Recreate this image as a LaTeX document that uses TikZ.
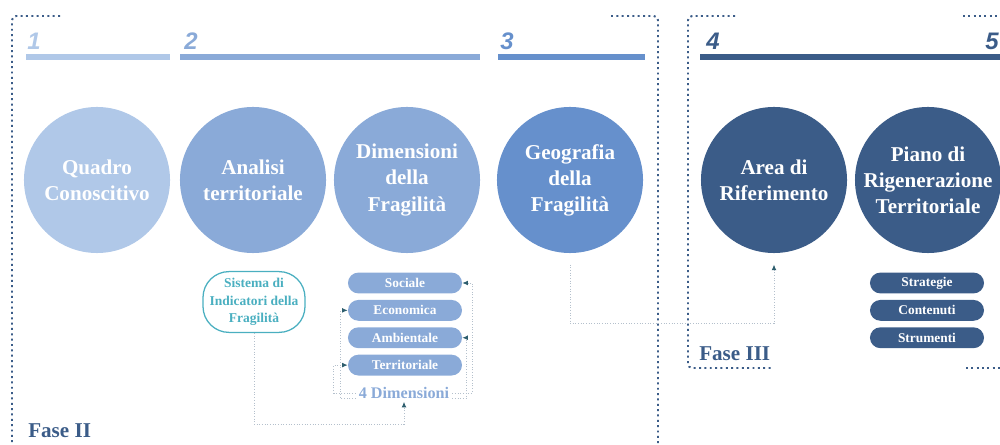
\documentclass[tikz,border=0pt]{standalone}
\usepackage{fontspec}
\setmainfont{Liberation Serif}
\newfontfamily\numfont{Liberation Sans}
\usepackage{xcolor}
\definecolor{blue200}{HTML}{B0C8E8}
\definecolor{blue300}{HTML}{8AAAD8}
\definecolor{blue400}{HTML}{6690CC}
\definecolor{navy700}{HTML}{3B5C88}
\definecolor{teal400}{HTML}{4AAFC0}
\definecolor{teal800}{HTML}{2E5E6E}
\definecolor{gray300}{HTML}{B4C0CC}
\usetikzlibrary{arrows.meta, positioning}

\begin{document}
\begin{tikzpicture}[
        x=0.025cm, y=-0.025cm,
        node distance=0.15cm,
        phase/.style={circle, minimum size=3.65cm, inner sep=0pt, align=center, text=white, font=\fontsize{15}{18.5}\selectfont\bfseries},
        tag/.style={rectangle, rounded corners=0.26cm, minimum width=2.85cm, minimum height=0.52cm, inner sep=0pt, text=white, font=\fontsize{9.5}{11}\selectfont\bfseries},
        bar/.style={line width=4.3pt},
        num/.style={font=\numfont\fontsize{17}{20}\selectfont\bfseries\itshape, inner sep=0pt, anchor=base west},
        frame/.style={draw=navy700, line width=1.4pt, dash pattern=on 1.4pt off 2.4pt, rounded corners=3pt},
        link/.style={draw=gray300, line width=0.7pt, dash pattern=on 0.7pt off 1.2pt},
        tip/.style={-{Latex[length=4pt, width=3.5pt, color=teal800]}},
        fase/.style={text=navy700, font=\fontsize{15}{18}\selectfont\bfseries, inner sep=0pt, anchor=base west}
    ]
        \useasboundingbox (0,0) rectangle (1000,445);

        % Phase numbers and bars
        \node[num, text=blue200] (n1) at (27,50) {1};
        \node[num, text=blue300] (n2) at (184,50) {2};
        \node[num, text=blue400] (n3) at (500,50) {3};
        \node[num, text=navy700] (n4) at (706,50) {4};
        \node[num, text=navy700, anchor=base east] (n5) at (999,50) {5};
        \draw[bar, blue200] (26,57) -- (170,57);
        \draw[bar, blue300] (180,57) -- (480,57);
        \draw[bar, blue400] (498,57) -- (645,57);
        \draw[bar, navy700] (700,57) -- (1000,57);

        % Dotted frames
        \draw[frame] (60,16) -| (12,445);
        \draw[frame] (611,16) -| (658,445);
        \draw[frame] (735,16) -| (688,368) -- (772,368);
        \draw[frame] (963,16) -- (1000,16);
        \draw[frame] (966,368) -- (1000,368);
        \node[fase] (fase2) at (28,437) {Fase II};
        \node[fase] (fase3) at (699,360) {Fase III};

        % Main circles
        \node[phase, fill=blue200] (quadro) at (97,180) {Quadro\\Conoscitivo};
        \node[phase, fill=blue300] (analisi) at (253,180) {Analisi\\territoriale};
        \node[phase, fill=blue300] (dimfrag) at (407,180) {Dimensioni\\della\\Fragilità};
        \node[phase, fill=blue400] (geo) at (570,180) {Geografia\\della\\Fragilità};
        \node[phase, fill=navy700] (area) at (774,180) {Area di\\Riferimento};
        \node[phase, fill=navy700] (piano) at (928,180) {Piano di\\Rigenerazione\\Territoriale};

        % Indicators and dimensions
        \node[draw=teal400, line width=0.9pt, rounded corners=0.65cm, minimum width=2.55cm, minimum height=1.52cm, inner sep=1pt, align=center, text=teal400, font=\fontsize{9.6}{12.6}\selectfont\bfseries] (indic) at (254,302) {Sistema di\\Indicatori della\\Fragilità};
        \node[tag, fill=blue300] (soc) at (405,283) {Sociale};
        \node[tag, fill=blue300, below=of soc] (econ) {Economica};
        \node[tag, fill=blue300, below=of econ] (amb) {Ambientale};
        \node[tag, fill=blue300, below=of amb] (terr) {Territoriale};
        \node[text=blue300, font=\fontsize{11.5}{13}\selectfont\bfseries, inner sep=2pt] (dims) at (404,393) {4 Dimensioni};

        % Plan contents
        \node[tag, fill=navy700] (strat) at (927,283) {Strategie};
        \node[tag, fill=navy700, below=of strat] (cont) {Contenuti};
        \node[tag, fill=navy700, below=of cont] (strum) {Strumenti};

        % Dotted links
        \draw[link, tip] (indic.south) -- ++(0,91) -| (dims.south);
        \draw[link, tip] (dims.west) -- ++(-22,0) |- (terr.west);
        \draw[link, tip] ([yshift=-4pt]dims.west) -- ++(-15,0) |- (econ.west);
        \draw[link, tip] (dims.east) -- ++(20,0) |- (soc.east);
        \draw[link, tip] ([yshift=-4pt]dims.east) -- ++(14,0) |- (amb.east);
        \draw[link, tip, shorten <=8pt, shorten >=8pt] (geo.south) -- ++(0,70) -| (area.south);
    \end{tikzpicture}
\end{document}
